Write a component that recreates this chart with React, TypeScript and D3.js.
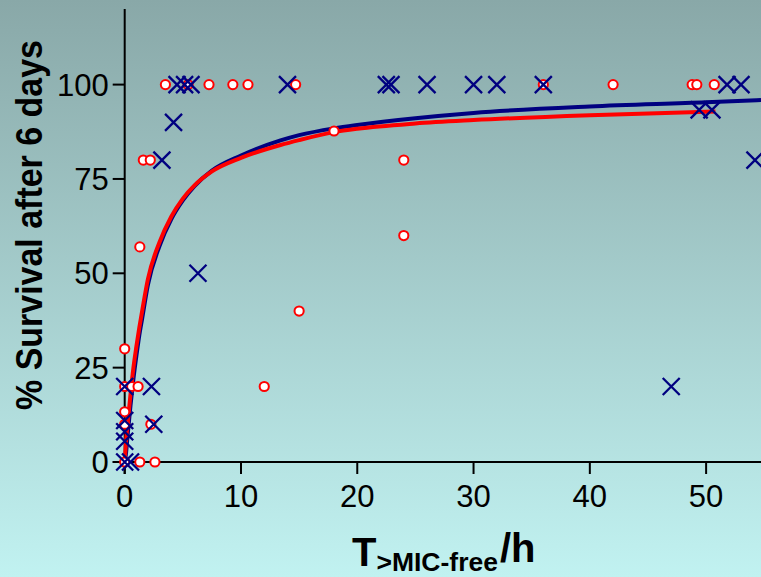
import React from "react";
import * as d3 from "d3";

// Red circles (open)
const redT = [3.5, 5.45, 7.25, 9.3, 10.6, 14.7, 36.0, 42.0, 48.8, 49.2, 50.7,
  18, 24, 24, 15, 12, 1.6, 2.2, 1.3, 0, 0, 0.6, 1.15, 0, 0, 2.25, 1.3, 2.6, 0];
const redS = [100, 100, 100, 100, 100, 100, 100, 100, 100, 100, 100,
  87.7, 80, 60, 40, 20, 80, 80, 57, 30, 20, 20, 20, 13.3, 10, 10, 0, 0, 0];

// Blue crosses
const blueT = [4.5, 5.15, 5.7, 14.0, 22.5, 22.9, 26.0, 30.0, 32.0, 36.0, 51.8, 53.0,
  4.2, 3.2, 6.3, 49.4, 50.5, 54.2, 47.0, 0, 2.3, 2.5, 0, 0, 0, 0, 0.5];
const blueS = [100, 100, 100, 100, 100, 100, 100, 100, 100, 100, 100, 100,
  90, 80, 50, 93.3, 93.3, 80, 20, 20, 20, 10, 11, 8, 5.5, 0, 0];

// Fitted curves
const redCurveT = [0, 0.1, 0.25, 0.5, 0.75, 1, 1.25, 1.5, 2, 3, 4, 5, 6, 7.5, 10, 13.4, 15, 18, 20, 25, 30, 40, 50.8];
const redCurveS = [0, 5, 10, 18, 25, 30.5, 35.5, 40, 48.5, 58.3, 65, 69.8, 73.3, 77, 80.6, 84, 85.3, 87.4, 88.3, 89.7, 90.6, 91.9, 92.9];
const blueCurveT = [0, 0.1, 0.25, 0.5, 0.75, 1, 1.25, 1.5, 2, 3, 4, 5, 6, 7.5, 10, 13.4, 15, 18, 20, 25, 30, 40, 50, 54.72];
const blueCurveS = [0, 2, 7, 15, 22, 28, 33.5, 38, 47, 57.3, 64.3, 69.3, 73.1, 77.2, 81.2, 85.2, 86.6, 88.4, 89.3, 91.1, 92.5, 94.2, 95.3, 95.9];

const xTicks = [0, 10, 20, 30, 40, 50];
const yTicks = [0, 25, 50, 75, 100];

const W = 761;
const H = 577;

export default function App() {
  const x = d3.scaleLinear().domain([0, 54.72]).range([124.7, 761]);
  const y = d3.scaleLinear().domain([0, 100]).range([462, 84.6]);
  const yTop = y(120);

  const line = d3
    .line<[number, number]>()
    .x((d) => x(d[0]))
    .y((d) => y(d[1]))
    .curve(d3.curveMonotoneX);

  const redCurve = redCurveT.map((t, i) => [t, redCurveS[i]] as [number, number]);
  const blueCurve = blueCurveT.map((t, i) => [t, blueCurveS[i]] as [number, number]);

  const font = "'Liberation Sans', Arial, Helvetica, sans-serif";
  const navy = "#000080";
  const red = "#ff0000";
  const tick = 12;

  return (
    <svg
      width={W}
      height={H}
      style={{ position: "absolute", left: 0, top: 0 }}
      fontFamily={font}
    >
      <defs>
        <linearGradient id="bg" x1="0" y1="0" x2="0" y2="1">
          <stop offset="0" stopColor="#89a8a8" />
          <stop offset="1" stopColor="#c1f2f1" />
        </linearGradient>
        <clipPath id="plot">
          <rect x={0} y={0} width={W} height={H} />
        </clipPath>
      </defs>
      <rect x={0} y={0} width={W} height={H} fill="url(#bg)" />

      {/* axes */}
      <line x1={x(0)} x2={x(0)} y1={yTop} y2={y(0) + tick} stroke="#000" strokeWidth={2} />
      <line x1={x(0) - tick} x2={W} y1={y(0)} y2={y(0)} stroke="#000" strokeWidth={2} />
      {yTicks.map((v) => (
        <g key={"y" + v}>
          <line x1={x(0) - tick} x2={x(0)} y1={y(v)} y2={y(v)} stroke="#000" strokeWidth={2} />
          <text x={x(0) - 16} y={y(v)} dy="0.36em" textAnchor="end" fontSize={31} fill="#000">
            {v}
          </text>
        </g>
      ))}
      {xTicks.map((v) => (
        <g key={"x" + v}>
          <line x1={x(v)} x2={x(v)} y1={y(0)} y2={y(0) + tick} stroke="#000" strokeWidth={2} />
          <text x={x(v)} y={507} textAnchor="middle" fontSize={31} fill="#000">
            {v}
          </text>
        </g>
      ))}

      {/* curves */}
      <g clipPath="url(#plot)">
        <path d={line(blueCurve) || ""} fill="none" stroke={navy} strokeWidth={4} />
        <path d={line(redCurve) || ""} fill="none" stroke={red} strokeWidth={4} />
      </g>

      {/* red circles */}
      {redT.map((t, i) => (
        <circle key={"r" + i} cx={x(t)} cy={y(redS[i])} r={4.6} fill="#fff" stroke={red} strokeWidth={2} />
      ))}

      {/* blue crosses */}
      {blueT.map((t, i) => {
        const cx = x(t);
        const cy = y(blueS[i]);
        const s = 8.5;
        return (
          <path
            key={"b" + i}
            d={`M${cx - s},${cy - s}L${cx + s},${cy + s}M${cx - s},${cy + s}L${cx + s},${cy - s}`}
            stroke={navy}
            strokeWidth={2.3}
            fill="none"
          />
        );
      })}

      {/* axis titles */}
      <text
        transform="translate(42,225) rotate(-90)"
        textAnchor="middle"
        fontSize={37}
        fontWeight="bold"
        textLength={370}
        lengthAdjust="spacingAndGlyphs"
        fill="#000"
      >
        % Survival after 6 days
      </text>
      <text x={352} y={566} fontWeight="bold" fill="#000">
        <tspan fontSize={40}>T</tspan>
        <tspan fontSize={26.5} y={571}>{">MIC-free"}</tspan>
        <tspan fontSize={40} y={562} dx={2}>/h</tspan>
      </text>
    </svg>
  );
}
